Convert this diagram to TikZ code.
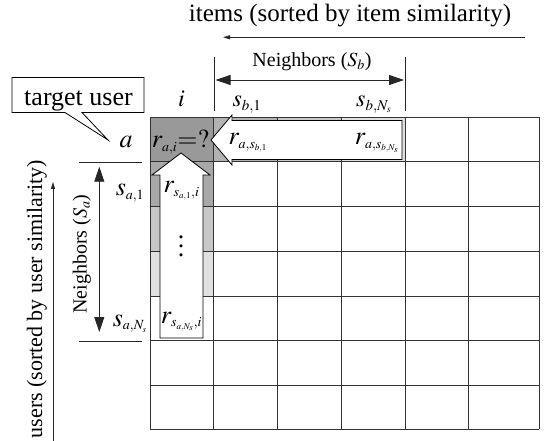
\documentclass[tikz,border=0pt]{standalone}
\usepackage{mathptmx}
\usepackage{fontspec}
\setmainfont{Liberation Serif}
\DeclareMathSizes{26}{26}{14}{9}
\DeclareMathSizes{24}{24}{15}{10}
\DeclareMathSizes{22}{22}{14}{10}
\DeclareMathSizes{20}{20}{14}{10}
\usetikzlibrary{calc,arrows.meta}

% three stacked dots with a wider pitch than \vdots
\newcommand{\colDots}{\vbox{\baselineskip9pt\lineskiplimit0pt
  \hbox{.}\hbox{.}\hbox{.}}}

\tikzset{
  txt/.style={inner sep=0pt, anchor=base},
  fbig/.style={font=\fontsize{26}{30}\selectfont},
  fmid/.style={font=\fontsize{24}{28}\selectfont},
  ftitle/.style={font=\fontsize{25}{30}\selectfont},
  fusers/.style={font=\fontsize{22}{26}\selectfont},
  fsmall/.style={font=\fontsize{20}{24}\selectfont},
  gridline/.style={draw=black!80, line width=0.9pt},
  blockarrow/.style={fill=white, draw=black, line width=0.8pt, line join=miter},
  calloutbox/.style={fill=white, draw=black, line width=0.8pt, line join=miter},
  dimline/.style={draw=black!85, line width=0.8pt},
  dimarrow/.style={draw=black!85, line width=0.8pt,
    {Triangle[length=15pt,width=10pt]}-{Triangle[length=15pt,width=10pt]}},
  axisarrow/.style={draw=black!85, line width=0.8pt, -{Triangle[length=7pt,width=4pt]}},
}

\begin{document}
\begin{tikzpicture}[x=1pt,y=-1pt]
\useasboundingbox (0,0) rectangle (544,441);

% shaded cells: target rating and its neighbours
\fill[black!40] (150,117.3) rectangle (213.5,161.7);
\fill[black!34] (150,161.7) rectangle (213.5,206.7);
\fill[black!22] (150,206.7) rectangle (213.5,251);
\fill[black!12] (150,251)   rectangle (213.5,296);
\fill[black!30] (213.5,117.3) rectangle (277.5,161.7);
\fill[black!21] (277.5,117.3) rectangle (341.5,161.7);
\fill[black!12] (341.5,117.3) rectangle (405,161.7);

% rating matrix grid
\foreach \x in {150,213.5,277.5,341.5,405,468.5,539}
  \draw[gridline] (\x,117.3) -- (\x,429.3);
\foreach \y in {117.3,161.7,206.7,251,296,340,385,429.3}
  \draw[gridline] (150,\y) -- (539,\y);

% block arrows collecting neighbour ratings
\draw[blockarrow] (211,140) -- (232,115) -- (232,120.5) -- (402,120.5)
  -- (402,159.5) -- (232,159.5) -- (232,165) -- cycle;
\draw[blockarrow] (181,153) -- (210,175) -- (203,175) -- (203,338)
  -- (160,338) -- (160,175) -- (152,175) -- cycle;

% ratings
\node[txt,fbig] (rai) at (180.5,148) {$r_{a,i}\mathord{=}?$};
\node[txt,fbig] (rb1) at (248,145) {$r_{a,s_{b,1}}$};
\node[txt,fbig] (rbn) at (377,145) {$r_{a,s_{b,N_s}}$};
\node[txt,fbig] (ra1) at (181.5,193) {$r_{s_{a,1},i}$};
\node[txt,fbig] (ran) at (181.5,323) {$r_{s_{a,N_s},i}$};
\node[inner sep=0pt, fbig] (dots) at (181,246) {\colDots};

% row and column labels
\node[txt,fmid] (ilab) at (181.5,107) {$i$};
\node[txt,fbig] (alab) at (126,148) {$a$};
\node[txt,fmid] (sb1) at (247,107) {$s_{b,1}$};
\node[txt,fmid] (sbn) at (374,107) {$s_{b,N_s}$};
\node[txt,fbig] (sa1) at (130,196) {$s_{a,1}$};
\node[txt,fbig] (san) at (130,326) {$s_{a,N_s}$};

% target user callout
\coordinate (tuNW) at (12,77.5);
\coordinate (tuNE) at (144,77.5);
\coordinate (tuSE) at (144,112.5);
\coordinate (tuSW) at (12,112.5);
\coordinate (tuB1) at (82,112.5);
\coordinate (tuB2) at (65,112.5);
\coordinate (tuTip) at (108,140);
\draw[calloutbox] (tuNW) -- (tuNE) -- (tuSE) -- (tuB1) -- (tuTip) -- (tuB2)
  -- (tuSW) -- cycle;
\node[txt,fbig] (tu) at (78.5,106) {target user};

% item neighbourhood S_b
\coordinate (tbL0) at (214,57);
\coordinate (tbL1) at (214,111);
\coordinate (tbR0) at (405,57);
\coordinate (tbR1) at (405,111);
\draw[dimline] (tbL0) -- (tbL1);
\draw[dimline] (tbR0) -- (tbR1);
\coordinate (sbA) at (215.5,80);
\coordinate (sbB) at (404,80);
\draw[dimarrow] (sbA) -- (sbB);
\node[txt,fsmall] (nbS) at (312,67) {Neighbors ($S_b$)};

% user neighbourhood S_a
\coordinate (taT0) at (78.5,162.7);
\coordinate (taT1) at (142,162.7);
\coordinate (taB0) at (78.5,341.5);
\coordinate (taB1) at (142,341.5);
\draw[dimline] (taT0) -- (taT1);
\draw[dimline] (taB0) -- (taB1);
\coordinate (saA) at (99.3,166.7);
\coordinate (saB) at (99.3,332);
\draw[dimarrow] (saA) -- (saB);
\node[txt,fsmall,rotate=90] (nbA) at (86.5,254) {Neighbors ($S_a$)};

% sort-order axes
\node[txt,ftitle] (items) at (350,22) {items (sorted by item similarity)};
\coordinate (itR) at (525,37.3);
\coordinate (itL) at (223,37.3);
\draw[axisarrow] (itR) -- (itL);

\node[txt,fusers,rotate=90] (users) at (42,299) {users (sorted by user similarity)};
\coordinate (usB) at (53,441);
\coordinate (usT) at (53,182);
\draw[axisarrow] (usB) -- (usT);
\end{tikzpicture}
\end{document}
